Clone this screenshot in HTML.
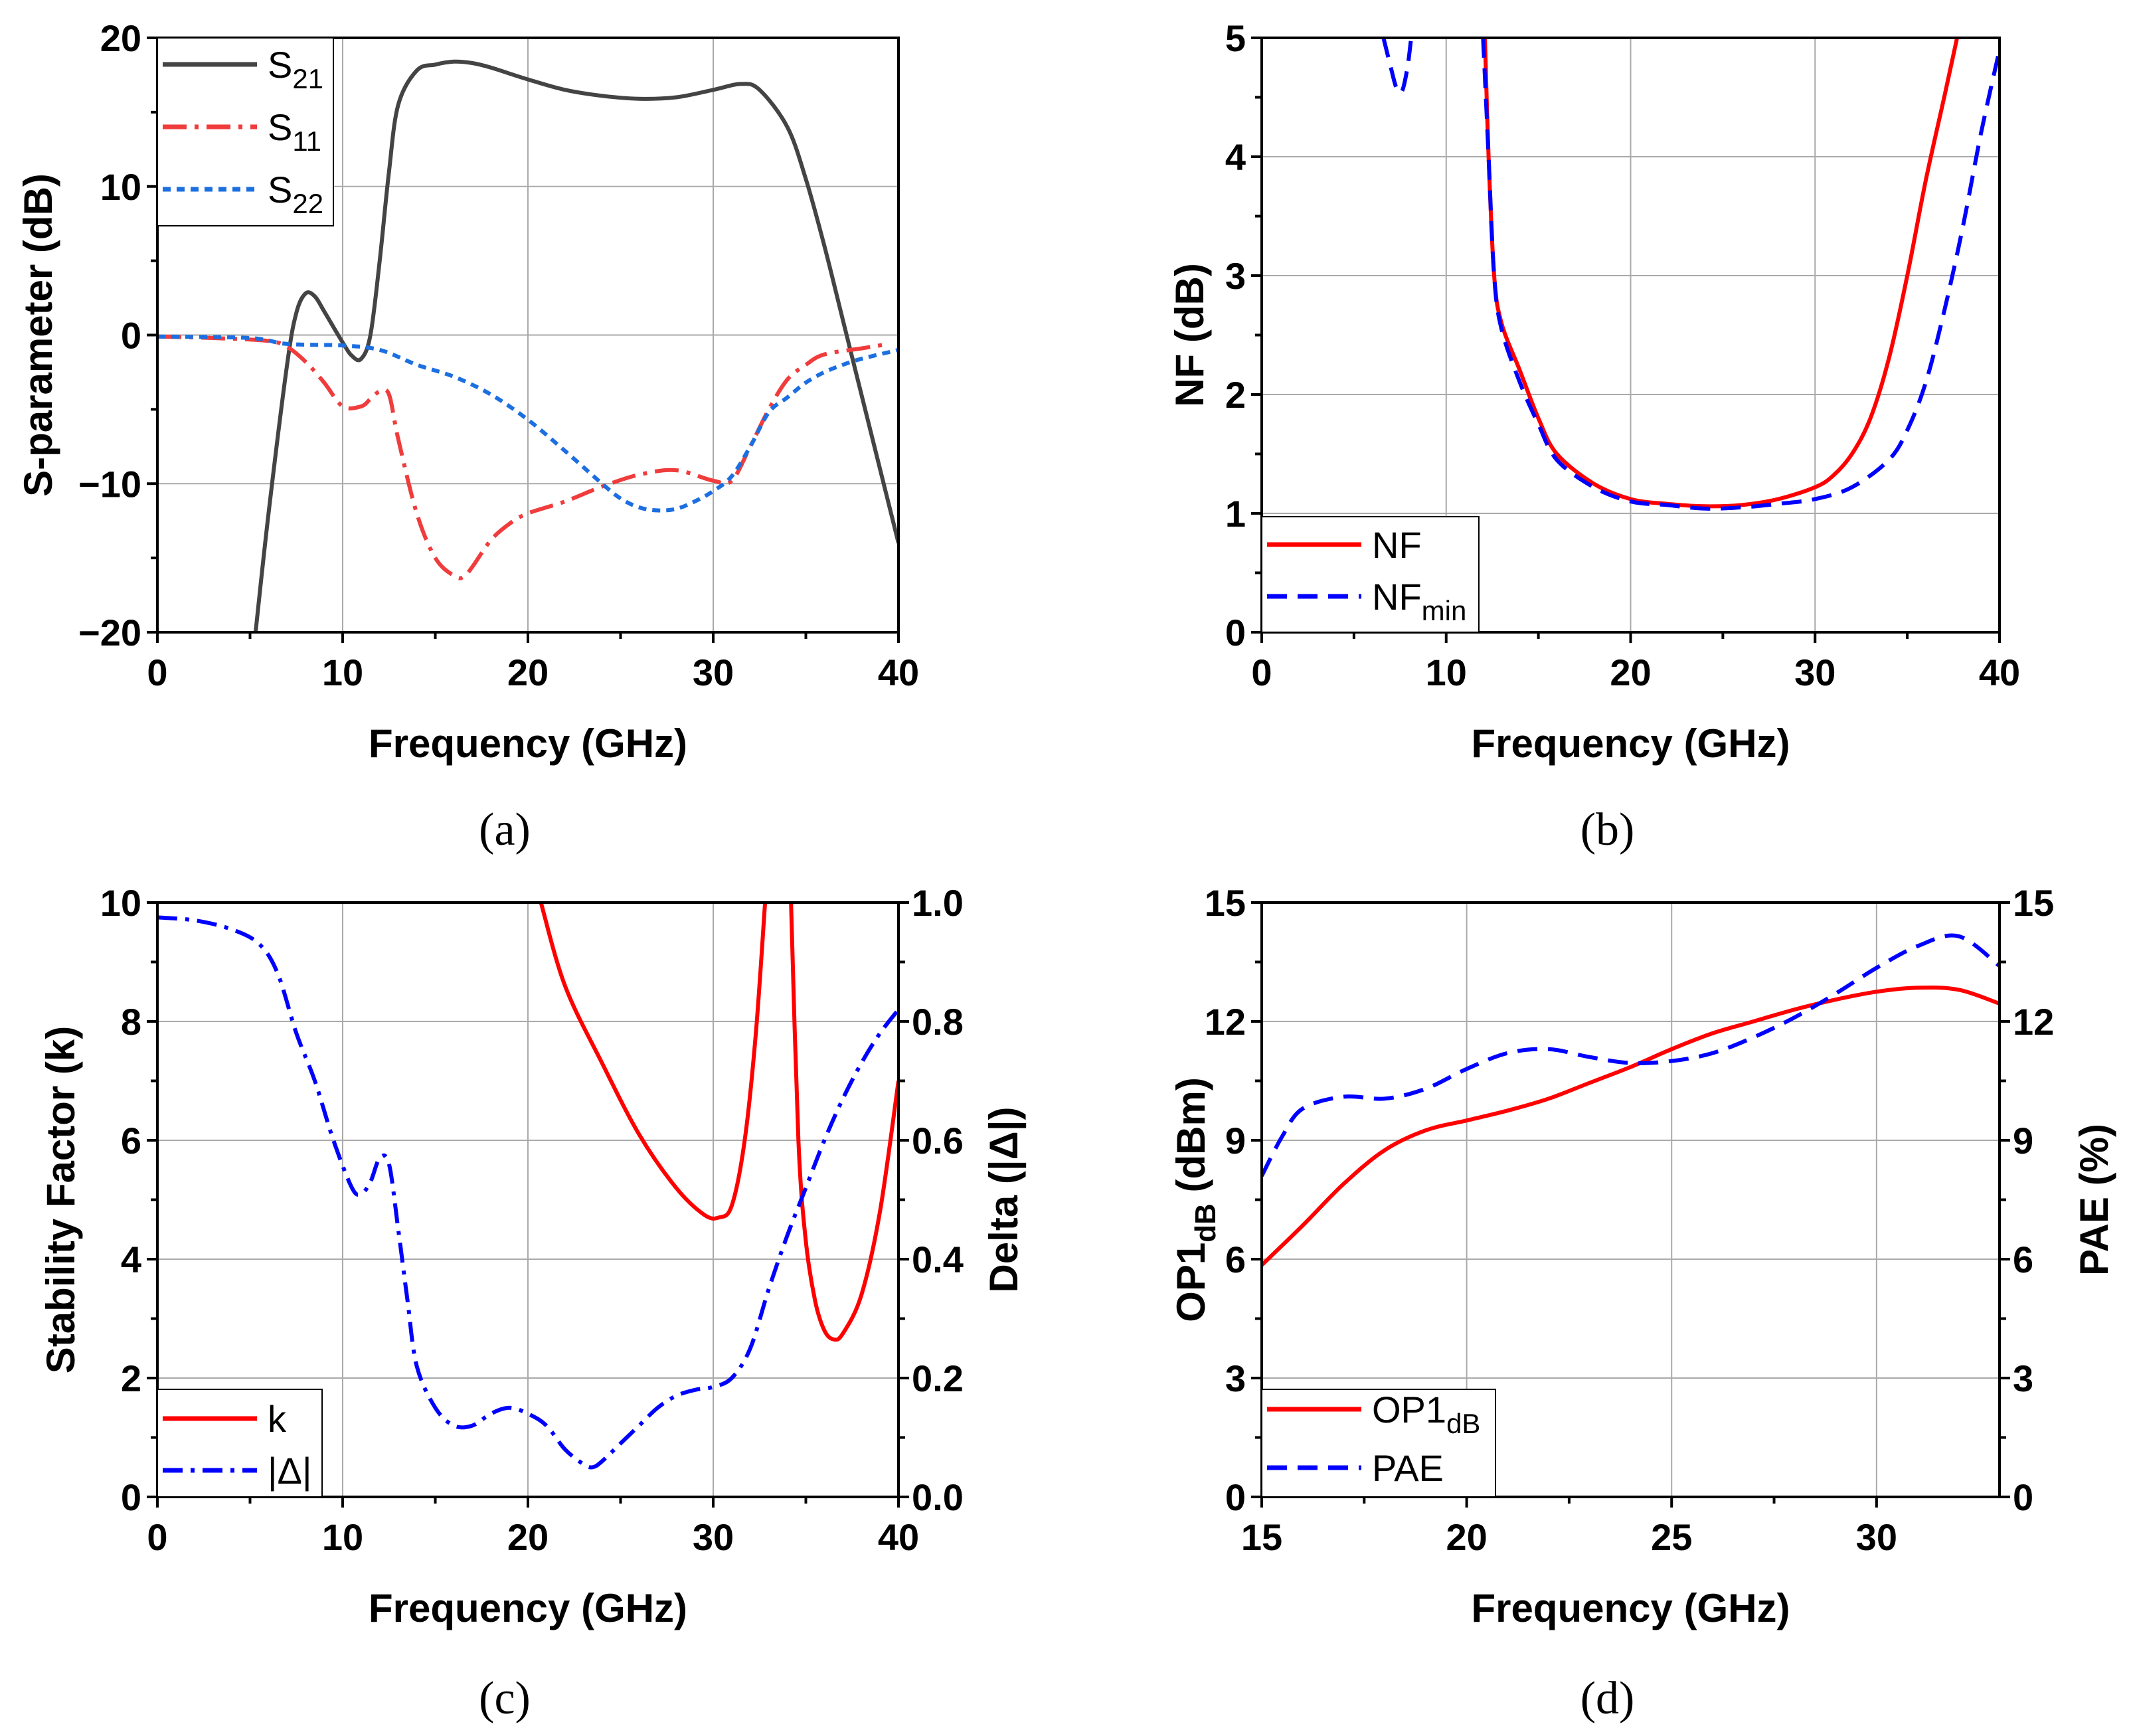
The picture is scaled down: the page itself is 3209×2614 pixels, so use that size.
<!DOCTYPE html>
<html><head><meta charset="utf-8"><style>
body{margin:0;background:#fff}
svg{display:block}
.tk{font-family:"Liberation Sans",sans-serif;font-weight:bold;font-size:56px;fill:#000}
.ti{font-family:"Liberation Sans",sans-serif;font-weight:bold;font-size:60px;fill:#000}
.lg{font-family:"Liberation Sans",sans-serif;font-size:56px;fill:#000}
.cap{font-family:"Liberation Serif",serif;font-size:70px;fill:#000}
</style></head><body>
<svg id="fig" width="3209" height="2614" viewBox="0 0 3209 2614" xmlns="http://www.w3.org/2000/svg"></svg>
<script>
// ---- data (a) ----
const s21X=[5.3,6,7,7.5,8,8.5,9,10,10.5,11,11.5,12,12.5,13,14,15,16,17,18,20,22,24,26,28,30,31.5,32.5,34,35,36,37,38,39,40];
const s21Y=[-20,-12,-2,1.5,2.8,2.6,1.6,-0.5,-1.4,-1.6,0,5,11,15.5,17.8,18.2,18.4,18.3,18,17.2,16.5,16.1,15.9,16,16.5,16.9,16.5,14,10.5,6,1,-4,-9,-14];
const s11X=[0,3,6,7,8,9,10,11,11.5,12,12.5,13,14,15,16,16.5,17,18,19,20,22,24,26,28,30,31,32,33,34,35,36,38,39.5];
const s11Y=[-0.1,-0.2,-0.4,-0.8,-1.8,-3.2,-4.8,-4.8,-4.3,-3.8,-4,-7,-12,-15,-16.2,-16.3,-15.6,-13.8,-12.7,-12,-11.2,-10.2,-9.4,-9.1,-9.8,-9.8,-7.5,-5,-3,-2,-1.3,-0.9,-0.6];
const s22X=[0,5,7,10,12,14,16,18,20,22,24,25,26,27,28,29,30,31,32,33,34,35,36,37,38,40];
const s22Y=[-0.1,-0.2,-0.6,-0.7,-1,-2,-2.8,-4,-5.7,-7.8,-10,-11,-11.6,-11.8,-11.7,-11.2,-10.5,-9.5,-7.5,-5.2,-4.2,-3.2,-2.5,-2,-1.6,-1];
// ---- data (b) ----
const nfX=[12.1,12.3,12.6,13,14,15,16,18,20,22,24,26,28,30,31,32,33,34,35,36,37,37.7];
const nfY=[5,4,3,2.6,2.2,1.8,1.5,1.25,1.12,1.08,1.06,1.07,1.12,1.22,1.32,1.5,1.8,2.3,3,3.8,4.5,5];
const nfminAX=[6.6,7,7.3,7.6,7.9,8.1];
const nfminAY=[5,4.75,4.58,4.55,4.75,5];
const nfminX=[12.0,12.3,12.6,13,14,15,16,18,20,22,24,26,28,30,32,34,35,36,37,38,39,40];
const nfminY=[5,4,3,2.55,2.1,1.75,1.45,1.22,1.1,1.07,1.04,1.05,1.08,1.12,1.22,1.45,1.7,2.1,2.7,3.4,4.2,4.9];
// ---- data (c) ----
const kAX=[20.7,22,24,26,28,29.5,30.3,31,31.7,32.3,32.8];
const kAY=[10,8.6,7.3,6.1,5.2,4.75,4.7,4.9,6,7.8,10];
const kBX=[34.2,34.6,35,35.5,36,36.5,37,38,39,40];
const kBY=[10,6,4.3,3.3,2.8,2.65,2.75,3.4,4.8,7];
const dX=[0,2,4,5.5,6.5,7.5,8.5,9.5,10.5,11,11.5,12,12.5,13,13.5,14,15,16,17,18,19,20,21,22,23,23.5,24,25,26,27,28,29,30,31,32,33,34,35,36,37,38,39,40];
const dY=[0.975,0.97,0.955,0.93,0.88,0.78,0.7,0.6,0.52,0.51,0.53,0.57,0.56,0.45,0.33,0.22,0.15,0.12,0.12,0.14,0.15,0.14,0.12,0.08,0.055,0.05,0.06,0.09,0.12,0.15,0.17,0.18,0.185,0.2,0.25,0.35,0.44,0.52,0.6,0.67,0.73,0.78,0.82];
// ---- data (d) ----
const opX=[15,16,17,18,19,20,21,22,23,24,25,26,27,28,29,30,31,32,33];
const opY=[5.85,6.85,7.9,8.75,9.25,9.5,9.75,10.05,10.45,10.85,11.3,11.7,12,12.3,12.55,12.75,12.85,12.8,12.45];
const paeX=[15,15.5,16,17,18,19,20,21,22,23,24,25,26,27,28,29,30,31,32,33];
const paeY=[8.1,9.1,9.8,10.1,10.05,10.3,10.8,11.2,11.3,11.1,10.95,11,11.2,11.6,12.1,12.7,13.35,13.9,14.15,13.4];
const ticksA=[0,10,20,30,40], yTicksA=[-20,-10,0,10,20];
const yTicksB=[0,1,2,3,4,5];
const yTicksC=[0,2,4,6,8,10], yTicksC2=['0.0','0.2','0.4','0.6','0.8','1.0'];
const xTicksD=[15,20,25,30], yTicksD=[0,3,6,9,12,15];

const NS="http://www.w3.org/2000/svg", svg=document.getElementById('fig');
function mk(tag,at,parent,text){const e=document.createElementNS(NS,tag);for(const k in at)e.setAttribute(k,at[k]);if(text!==undefined)e.textContent=text;(parent||svg).appendChild(e);return e;}
function smooth(pts){let d='M'+pts[0][0]+','+pts[0][1];for(let i=0;i<pts.length-1;i++){const p0=pts[Math.max(0,i-1)],p1=pts[i],p2=pts[i+1],p3=pts[Math.min(pts.length-1,i+2)];const c1=[p1[0]+(p2[0]-p0[0])/6,p1[1]+(p2[1]-p0[1])/6],c2=[p2[0]-(p3[0]-p1[0])/6,p2[1]-(p3[1]-p1[1])/6];d+=' C'+c1[0].toFixed(1)+','+c1[1].toFixed(1)+' '+c2[0].toFixed(1)+','+c2[1].toFixed(1)+' '+p2[0].toFixed(1)+','+p2[1].toFixed(1);}return d;}

function panel(o){
  const g=mk('g',{});
  
  
  const L=o.L,R=o.R,T=o.T,B=o.B;
  const sx=v=>L+(v-o.x0)/(o.x1-o.x0)*(R-L), sy=v=>B-(v-o.y0)/(o.y1-o.y0)*(B-T);
  const clipId='clip'+o.id;
  const cp=mk('clipPath',{id:clipId},g);mk('rect',{x:L,y:T,width:R-L,height:B-T},cp);
  const gg=mk('g',{},g);
  o.xt.forEach(v=>mk('line',{x1:sx(v),x2:sx(v),y1:T,y2:B,stroke:'#aaa','stroke-width':2},gg));
  o.yt.forEach(v=>mk('line',{x1:L,x2:R,y1:sy(v),y2:sy(v),stroke:'#aaa','stroke-width':2},gg));
  o.xt.forEach((v,i)=>{mk('line',{x1:sx(v),x2:sx(v),y1:B,y2:B+16,stroke:'#000','stroke-width':4},g);
    const t=mk('text',{x:sx(v),y:B+80,'text-anchor':'middle',class:'tk'},g,v);
    if(i<o.xt.length-1){const m=sx((v+o.xt[i+1])/2);mk('line',{x1:m,x2:m,y1:B,y2:B+10,stroke:'#000','stroke-width':4},g);}});
  o.yt.forEach((v,i)=>{mk('line',{x1:L-16,x2:L,y1:sy(v),y2:sy(v),stroke:'#000','stroke-width':4},g);
    const t=mk('text',{x:L-24,y:sy(v)+20,'text-anchor':'end',class:'tk'},g,String(v).replace('-','\u2212'));
    if(i<o.yt.length-1){const m=sy((v+o.yt[i+1])/2);mk('line',{x1:L-10,x2:L,y1:m,y2:m,stroke:'#000','stroke-width':4},g);}
    if(o.y2){mk('line',{x1:R,x2:R+16,y1:sy(v),y2:sy(v),stroke:'#000','stroke-width':4},g);
      const t2=mk('text',{x:R+20,y:sy(v)+20,'text-anchor':'start',class:'tk'},g,o.y2[i]);
      if(i<o.yt.length-1){const m=sy((v+o.yt[i+1])/2);mk('line',{x1:R,x2:R+10,y1:m,y2:m,stroke:'#000','stroke-width':4},g);}}});
  const sg=mk('g',{'clip-path':'url(#'+clipId+')'},g);
  o.series.forEach(s=>{const p=mk('path',{d:smooth(s.x.map((v,i)=>[sx(v),sy(s.y[i])])),fill:'none',stroke:s.c,'stroke-width':6,'stroke-dasharray':s.dash||'none','stroke-linejoin':'round'},sg);
    });
  mk('rect',{x:L,y:T,width:R-L,height:B-T,fill:'none',stroke:'#000','stroke-width':4},g);
  const xt=mk('text',{x:(L+R)/2,y:B+188,'text-anchor':'middle',class:'ti'},g,'Frequency (GHz)');
  const yt=mk('text',{transform:'translate('+o.ytx+','+(T+B)/2+') rotate(-90)','text-anchor':'middle',class:'ti'},g);yt.innerHTML=o.ytitle;
  if(o.y2title){const y2=mk('text',{transform:'translate('+o.y2tx+','+(T+B)/2+') rotate(-90)','text-anchor':'middle',class:'ti'},g,o.y2title);}
  const cap=mk('text',{x:(L+R)/2-35,y:o.capY,'text-anchor':'middle',class:'cap'},g,o.cap);
  const lg=mk('g',{},g);
  const lb=o.leg;mk('rect',{x:lb.x,y:lb.y,width:lb.w,height:lb.h,fill:'#fff',stroke:'#000','stroke-width':2},lg);
  lb.items.forEach((it,i)=>{const yy=lb.y+lb.first+i*lb.step;const e=mk('g',{},lg);
    mk('line',{x1:lb.x+8,x2:lb.x+150,y1:yy,y2:yy,stroke:it.c,'stroke-width':7,'stroke-dasharray':it.dash||'none'},e);
    const t=mk('text',{x:lb.x+166,y:yy+20,class:'lg'},e);t.innerHTML=it.t;});
}
const sub=(a,b)=>a+'<tspan dy="16" font-size="42">'+b+'</tspan>';
panel({id:'a',name:'s-parameter-chart',L:237,R:1353,T:57,B:952,x0:0,x1:40,y0:-20,y1:20,xt:ticksA,yt:yTicksA,
 ytitle:'S-parameter (dB)',ytx:78,cap:'(a)',capY:1272,
 series:[{x:s21X,y:s21Y,c:'#444',n:'s21-line'},{x:s11X,y:s11Y,c:'#f03c3c',dash:'36 12 6 12',n:'s11-line'},{x:s22X,y:s22Y,c:'#1c6fe0',dash:'12 9',n:'s22-line'}],
 leg:{x:237,y:57,w:265,h:283,first:40,step:94,items:[{t:sub('S','21'),c:'#444'},{t:sub('S','11'),c:'#f03c3c',dash:'36 12 6 12'},{t:sub('S','22'),c:'#1c6fe0',dash:'12 9'}]}});
panel({id:'b',name:'noise-figure-chart',L:1900,R:3011,T:57,B:952,x0:0,x1:40,y0:0,y1:5,xt:ticksA,yt:yTicksB,
 ytitle:'NF (dB)',ytx:1812,cap:'(b)',capY:1272,
 series:[{x:nfX,y:nfY,c:'#ff0000',n:'nf-line'},{x:nfminAX,y:nfminAY,c:'#0000ff',dash:'30 16',n:'nfmin-line-low'},{x:nfminX,y:nfminY,c:'#0000ff',dash:'30 16',n:'nfmin-line'}],
 leg:{x:1900,y:778,w:327,h:174,first:42,step:78,items:[{t:'NF',c:'#ff0000'},{t:sub('NF','min'),c:'#0000ff',dash:'30 16'}]}});
panel({id:'c',name:'stability-chart',L:237,R:1353,T:1359,B:2254,x0:0,x1:40,y0:0,y1:10,xt:ticksA,yt:yTicksC,y2:yTicksC2,
 ytitle:'Stability Factor (k)',ytx:112,y2title:'Delta (|\u0394|)',y2tx:1532,cap:'(c)',capY:2580,
 series:[{x:kAX,y:kAY,c:'#ff0000',n:'k-line'},{x:kBX,y:kBY,c:'#ff0000',n:'k-line-2'},{x:dX,y:dY.map(v=>v*10),c:'#0000ff',dash:'30 12 6 12',n:'delta-line'}],
 leg:{x:237,y:2092,w:248,h:162,first:44,step:78,items:[{t:'k',c:'#ff0000'},{t:'|\u0394|',c:'#0000ff',dash:'30 12 6 12'}]}});
panel({id:'d',name:'power-chart',L:1900,R:3011,T:1359,B:2254,x0:15,x1:33,y0:0,y1:15,xt:xTicksD,yt:yTicksD,y2:yTicksD,
 ytitle:'OP1<tspan dy="16" font-size="44">dB</tspan><tspan dy="-16"> (dBm)</tspan>',ytx:1814,y2title:'PAE (%)',y2tx:3174,cap:'(d)',capY:2580,
 series:[{x:opX,y:opY,c:'#ff0000',n:'op1db-line'},{x:paeX,y:paeY,c:'#0000ff',dash:'30 16',n:'pae-line'}],
 leg:{x:1900,y:2092,w:352,h:162,first:30,step:88,items:[{t:sub('OP1','dB'),c:'#ff0000'},{t:'PAE',c:'#0000ff',dash:'30 16'}]}});
</script>
</body></html>
